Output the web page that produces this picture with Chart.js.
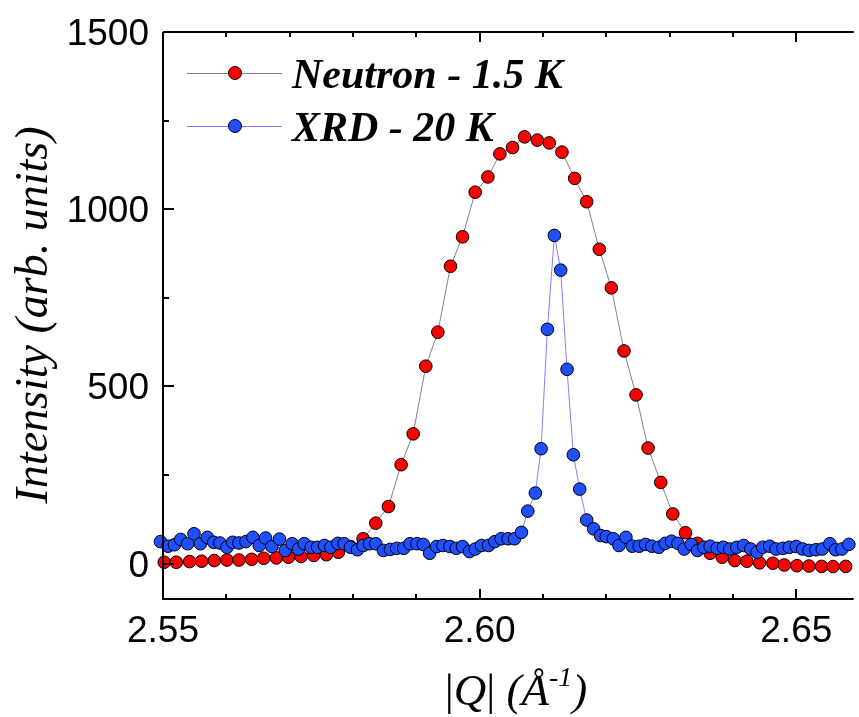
<!DOCTYPE html>
<html><head><meta charset="utf-8">
<script src="https://cdn.jsdelivr.net/npm/chart.js@4"></script>
<style>html,body{margin:0;padding:0;background:#fff;overflow:hidden}#wrap{width:859px;height:717px}</style>
</head><body><div id="wrap"><canvas id="c" width="859" height="717"></canvas></div>
<script>
const neutronQ=[2.5502,2.5521,2.5542,2.5561,2.5581,2.5601,2.5620,2.5640,2.5659,2.5679,2.5698,2.5718,2.5738,2.5758,2.5777,2.5796,2.5816,2.5836,2.5856,2.5876,2.5895,2.5915,2.5934,2.5954,2.5973,2.5993,2.6013,2.6032,2.6052,2.6071,2.6091,2.6110,2.6130,2.6150,2.6169,2.6189,2.6208,2.6228,2.6247,2.6266,2.6286,2.6305,2.6325,2.6344,2.6364,2.6383,2.6403,2.6422,2.6442,2.6463,2.6481,2.6501,2.6520,2.6540,2.6558,2.6578];
const neutronI=[3.7,3.7,5.6,6.6,8.5,10,10,12,15,16,18,20,23,25,32,48,70,114,161,279,366,557,653,839,922,1048,1091,1156,1174,1204,1195,1187,1161,1087,1021,887,778,600,476,326,229,140,87,57,29,18,8.5,6.6,2,1,-4,-6,-7,-8,-8.5,-8];
const xrdQ=[2.5496,2.5508,2.5518,2.5528,2.5539,2.5549,2.5559,2.5570,2.5580,2.5590,2.5601,2.5610,2.5620,2.5631,2.5642,2.5652,2.5662,2.5672,2.5684,2.5693,2.5704,2.5714,2.5723,2.5734,2.5744,2.5755,2.5765,2.5776,2.5786,2.5796,2.5807,2.5816,2.5826,2.5836,2.5848,2.5859,2.5869,2.5880,2.5890,2.5901,2.5911,2.5921,2.5932,2.5942,2.5953,2.5963,2.5973,2.5984,2.5993,2.6003,2.6014,2.6024,2.6034,2.6045,2.6055,2.6066,2.6076,2.6088,2.6097,2.6107,2.6118,2.6128,2.6138,2.6148,2.6158,2.6169,2.6180,2.6191,2.6200,2.6211,2.6220,2.6231,2.6241,2.6252,2.6262,2.6272,2.6283,2.6293,2.6303,2.6313,2.6323,2.6334,2.6344,2.6354,2.6364,2.6375,2.6385,2.6395,2.6406,2.6417,2.6428,2.6438,2.6447,2.6458,2.6468,2.6479,2.6489,2.6500,2.6510,2.6520,2.6531,2.6541,2.6553,2.6562,2.6572,2.6583];
const xrdI=[62,49,53,68,56,84,56,74,60,58,46,60,58,62,74,51,72,48,69,37,56,41,56,46,46,51,46,57,56,46,39,51,56,56,37,40,43,43,56,56,54,29,48,51,48,43,48,34,41,51,51,62,70,70,70,88,148,199,324,661,926,828,548,307,210,123,98,79,76,70,51,74,49,49,54,49,46,57,63,57,41,54,37,46,49,43,46,41,46,51,41,32,46,49,41,43,46,48,41,37,39,41,56,39,41,54];
const seriesLabels=['Neutron - 1.5 K','XRD - 20 K'];
const xMajorTicks=[2.55,2.60,2.65];
const xMinorTicks=[2.56,2.57,2.58,2.59,2.61,2.62,2.63,2.64];
const yMajorTicks=[0,500,1000,1500];
const yMinorTicks=[250,750,1250];

const axesPlugin={id:'axes',afterDatasetsDraw(chart){
  const {ctx,chartArea:a,scales:{x,y}}=chart;
  ctx.save();
  ctx.strokeStyle='#000';ctx.lineWidth=2;
  ctx.beginPath();
  ctx.moveTo(a.left,a.top);ctx.lineTo(a.left,a.bottom);ctx.lineTo(a.right+2,a.bottom);
  ctx.moveTo(a.left,a.top);ctx.lineTo(a.right+2,a.top);
  ctx.stroke();
  ctx.beginPath();
  const xt=(v,len)=>{const p=Math.round(x.getPixelForValue(v));ctx.moveTo(p,a.bottom);ctx.lineTo(p,a.bottom-len);ctx.moveTo(p,a.top);ctx.lineTo(p,a.top+len);};
  xMajorTicks.forEach(v=>xt(v,10));xMinorTicks.forEach(v=>xt(v,5));
  const yt=(v,len)=>{const p=Math.round(y.getPixelForValue(v));ctx.moveTo(a.left,p);ctx.lineTo(a.left+len,p);};
  yMajorTicks.forEach(v=>yt(v,11));yMinorTicks.forEach(v=>yt(v,6));
  ctx.stroke();
  ctx.fillStyle='#000';
  ctx.font='37px "Liberation Sans", Arial, sans-serif';
  ctx.textAlign='center';ctx.textBaseline='alphabetic';
  xMajorTicks.forEach(v=>ctx.fillText(v.toFixed(2),x.getPixelForValue(v),642));
  ctx.textAlign='right';
  yMajorTicks.forEach(v=>ctx.fillText(String(v),149,y.getPixelForValue(v)+13));
  // y title
  ctx.save();
  ctx.translate(47,315);ctx.rotate(-Math.PI/2);
  ctx.textAlign='center';ctx.font='italic 46px "Liberation Serif", serif';
  ctx.fillText('Intensity (arb. units)',0,0);
  ctx.restore();
  // x title
  const parts=[['|','45px "Liberation Serif"',0],['Q','italic 45px "Liberation Serif"',0],['|','45px "Liberation Serif"',0],[' (','italic 45px "Liberation Serif"',0],['Å','italic 45px "Liberation Serif"',0],['-1','italic 28px "Liberation Serif"',-19],[')','italic 45px "Liberation Serif"',0]];
  let tot=0;parts.forEach(p=>{ctx.font=p[1];tot+=ctx.measureText(p[0]).width;});
  let cx=516-tot/2;ctx.textAlign='left';
  parts.forEach(p=>{ctx.font=p[1];ctx.fillText(p[0],cx,705+p[2]);cx+=ctx.measureText(p[0]).width;});
  ctx.restore();
}};
const legendPlugin={id:'leg',afterDraw(chart){
  const ctx=chart.ctx;ctx.save();
  const ds=[chart.data.datasets[0],chart.data.datasets[1]];
  ds.forEach((d,i)=>{
    const yy=73+53*i;
    ctx.strokeStyle=d.borderColor;ctx.lineWidth=1;
    ctx.beginPath();ctx.moveTo(187,yy+0.5);ctx.lineTo(282,yy+0.5);ctx.stroke();
    ctx.beginPath();ctx.arc(235,yy,6.5,0,Math.PI*2);ctx.fillStyle=d.pointBackgroundColor;ctx.fill();
    ctx.strokeStyle='#000';ctx.stroke();
    ctx.fillStyle='#000';ctx.font='bold italic 42px "Liberation Serif", serif';
    ctx.textAlign='left';ctx.textBaseline='alphabetic';
    ctx.fillText(d.label,292,yy+15);
  });
  ctx.restore();
}};
new Chart(document.getElementById('c'),{
  type:'line',
  data:{datasets:[
    {label:seriesLabels[0],data:neutronQ.map((q,i)=>({x:q,y:neutronI[i]})),borderColor:'#808080',borderWidth:1,pointBackgroundColor:'#ff0000',pointBorderColor:'#000',pointBorderWidth:1,pointRadius:6.3,tension:0,clip:false,order:2},
    {label:seriesLabels[1],data:xrdQ.map((q,i)=>({x:q,y:xrdI[i]})),borderColor:'#8080ff',borderWidth:1,pointBackgroundColor:'#1f4fff',pointBorderColor:'#000',pointBorderWidth:1,pointRadius:6.3,tension:0,clip:false,order:1}
  ]},
  options:{responsive:false,animation:false,
    layout:{padding:{left:163,top:32,right:0,bottom:118}},
    scales:{x:{type:'linear',display:false,min:2.55,max:2.65875},y:{type:'linear',display:false,min:-100,max:1500}},
    plugins:{legend:{display:false},tooltip:{enabled:false}}},
  plugins:[axesPlugin,legendPlugin]
});
</script></body></html>
